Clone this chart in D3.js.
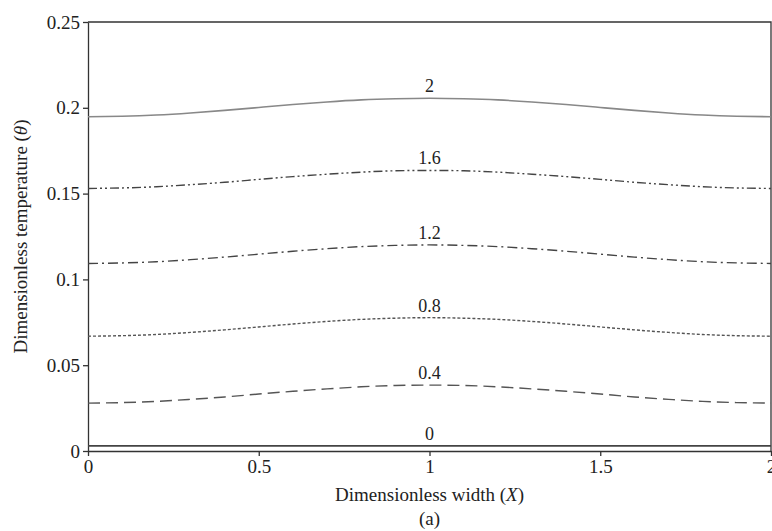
<!DOCTYPE html>
<html>
<head>
<meta charset="utf-8">
<script src="https://cdn.jsdelivr.net/npm/d3@7/dist/d3.min.js"></script>
<style>
  body { margin: 0; background: #fff; }
  text { font-family: "Liberation Serif", "Times New Roman", serif; fill: #222; }
</style>
</head>
<body>
<svg id="chart" width="772" height="531"></svg>
<script>
// x positions (dimensionless width)
var xValues = [0, 0.1, 0.2, 0.3, 0.4, 0.5, 0.6, 0.7, 0.8, 0.9, 1, 1.1, 1.2, 1.3, 1.4, 1.5, 1.6, 1.7, 1.8, 1.9, 2]
// curve labels (time)
var curveLabels = ['2', '1.6', '1.2', '0.8', '0.4', '0']
// temperature for each curve
var theta2 = [0.1948, 0.1951, 0.1958, 0.1970, 0.1985, 0.2002, 0.2019, 0.2034, 0.2046, 0.2053, 0.2056, 0.2053, 0.2046, 0.2034, 0.2019, 0.2002, 0.1985, 0.1970, 0.1958, 0.1951, 0.1948]
var theta16 = [0.1530, 0.1533, 0.1540, 0.1552, 0.1566, 0.1583, 0.1599, 0.1613, 0.1625, 0.1633, 0.1635, 0.1633, 0.1625, 0.1613, 0.1599, 0.1583, 0.1566, 0.1552, 0.1540, 0.1533, 0.1530]
var theta12 = [0.1093, 0.1096, 0.1103, 0.1115, 0.1130, 0.1147, 0.1164, 0.1179, 0.1191, 0.1198, 0.1201, 0.1198, 0.1191, 0.1179, 0.1164, 0.1147, 0.1130, 0.1115, 0.1103, 0.1096, 0.1093]
var theta08 = [0.0669, 0.0672, 0.0679, 0.0691, 0.0706, 0.0723, 0.0740, 0.0755, 0.0767, 0.0774, 0.0777, 0.0774, 0.0767, 0.0755, 0.0740, 0.0723, 0.0706, 0.0691, 0.0679, 0.0672, 0.0669]
var theta04 = [0.0279, 0.0282, 0.0289, 0.0301, 0.0315, 0.0332, 0.0348, 0.0362, 0.0374, 0.0382, 0.0384, 0.0382, 0.0374, 0.0362, 0.0348, 0.0332, 0.0315, 0.0301, 0.0289, 0.0282, 0.0279]
var theta0 = [0.003, 0.003, 0.003, 0.003, 0.003, 0.003, 0.003, 0.003, 0.003, 0.003, 0.003, 0.003, 0.003, 0.003, 0.003, 0.003, 0.003, 0.003, 0.003, 0.003, 0.003]
var xTicks = [0, 0.5, 1, 1.5, 2]
var yTicks = [0, 0.05, 0.1, 0.15, 0.2, 0.25]

var svg = d3.select('#chart')
var margin = { top: 22, right: 1, bottom: 80, left: 88 }
var width = 772 - margin.left - margin.right
var height = 531 - margin.top - margin.bottom

var x = d3.scaleLinear().domain([0, 2]).range([0, width])
var y = d3.scaleLinear().domain([0, 0.25]).range([height, 0])

var g = svg.append('g')
  .attr('transform', 'translate(' + margin.left + ',' + margin.top + ')')

// frame top / right
g.append('path')
  .attr('d', 'M0,0H' + width + 'V' + height)
  .attr('fill', 'none')
  .attr('stroke', '#333')
  .attr('stroke-width', 1.3)

var xAxis = g.append('g')
  .attr('transform', 'translate(0,' + height + ')')
  .call(d3.axisBottom(x).tickValues(xTicks).tickSize(5).tickSizeOuter(0)
    .tickFormat(function (d) { return String(d) }))
var yAxis = g.append('g')
  .call(d3.axisLeft(y).tickValues(yTicks).tickSize(5).tickSizeOuter(0)
    .tickFormat(function (d) { return String(+d.toFixed(2)) }))

svg.selectAll('.domain, .tick line').attr('stroke', '#333').attr('stroke-width', 1.3)
svg.selectAll('.tick text')
  .style('font-family', '"Liberation Serif", serif')
  .style('font-size', '19px')
  .attr('fill', '#222')
xAxis.selectAll('.tick text').attr('dy', '0.85em').attr('y', 6)
yAxis.selectAll('.tick text').attr('x', -8)

var series = [
  { label: curveLabels[0], values: theta2, dash: null, color: '#888', w: 1.6 },
  { label: curveLabels[1], values: theta16, dash: '9,3,2,3,2,3', color: '#444', w: 1.4 },
  { label: curveLabels[2], values: theta12, dash: '10,4,2,4', color: '#444', w: 1.4 },
  { label: curveLabels[3], values: theta08, dash: '3,2', color: '#555', w: 1.4 },
  { label: curveLabels[4], values: theta04, dash: '12,6', color: '#555', w: 1.4 },
  { label: curveLabels[5], values: theta0, dash: null, color: '#444', w: 1.6 }
]

var line = d3.line()
  .x(function (d, i) { return x(xValues[i]) })
  .y(function (d) { return y(d) })
  .curve(d3.curveNatural)

series.forEach(function (s) {
  g.append('path')
    .datum(s.values)
    .attr('d', line)
    .attr('fill', 'none')
    .attr('stroke', s.color)
    .attr('stroke-width', s.w)
    .attr('stroke-dasharray', s.dash)
  g.append('text')
    .attr('x', x(1))
    .attr('y', y(d3.max(s.values)) - 6)
    .attr('text-anchor', 'middle')
    .style('font-size', '18px')
    .text(s.label)
})

// axis titles
var xt = svg.append('text')
  .attr('x', margin.left + width / 2)
  .attr('y', 501)
  .attr('text-anchor', 'middle')
  .style('font-size', '19px')
xt.append('tspan').text('Dimensionless width (')
xt.append('tspan').style('font-style', 'italic').text('X')
xt.append('tspan').text(')')

var yt = svg.append('text')
  .attr('transform', 'translate(27,' + (margin.top + height / 2) + ') rotate(-90)')
  .attr('text-anchor', 'middle')
  .style('font-size', '19px')
yt.append('tspan').text('Dimensionless temperature (')
yt.append('tspan').style('font-style', 'italic').text('θ')
yt.append('tspan').text(')')

svg.append('text')
  .attr('x', margin.left + width / 2)
  .attr('y', 525)
  .attr('text-anchor', 'middle')
  .style('font-size', '19px')
  .text('(a)')
</script>
</body>
</html>
